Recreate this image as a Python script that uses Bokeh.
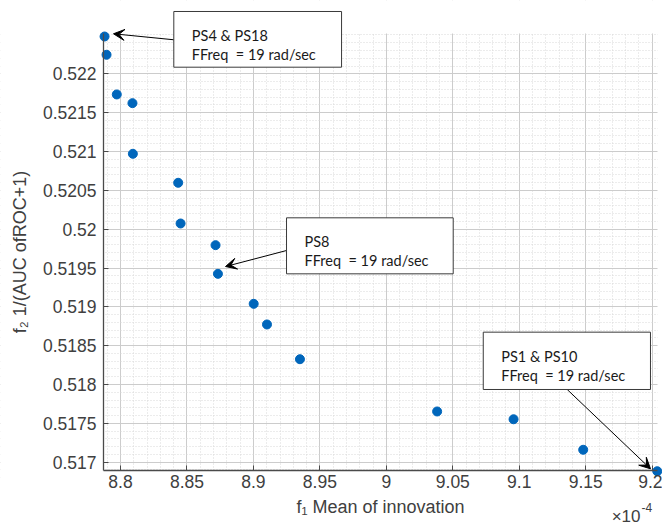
from bokeh.plotting import figure
from bokeh.models import (FixedTicker, CustomJSTickFormatter, Arrow, VeeHead,
                          BoxAnnotation, Label, Range1d)
from bokeh.embed import file_html
from bokeh.resources import INLINE

# ---- data (x in units of 1e-4) ----
f1_mean_innovation = [8.7880, 8.7895, 8.7972, 8.8090, 8.8093, 8.8434, 8.8452, 8.8715,
                      8.8733, 8.9002, 8.9102, 8.9350, 9.0382, 9.0957, 9.1481, 9.2038]
f2_inv_auc = [0.52248, 0.522245, 0.521734, 0.521622, 0.520970, 0.520597, 0.520073, 0.519794,
              0.519425, 0.519039, 0.518773, 0.518326, 0.517653, 0.517553, 0.517160, 0.516884]

x_ticks = [8.8, 8.85, 8.9, 8.95, 9.0, 9.05, 9.1, 9.15, 9.2]
y_ticks = [0.517, 0.5175, 0.518, 0.5185, 0.519, 0.5195, 0.52, 0.5205, 0.521, 0.5215, 0.522]

x_label = "f\u2081 Mean of innovation"
y_label = "f\u2082 1/(AUC ofROC+1)"
exp_text = "\u00d710"
exp_power = "-4"

annotations = [
    ("PS4 & PS18", "FFreq\u00a0 = 19 rad/sec"),
    ("PS8", "FFreq\u00a0 = 19 rad/sec"),
    ("PS1 & PS10", "FFreq\u00a0 = 19 rad/sec"),
]

# ---- layout ----
# plot box (axes limits)
X0, X1 = 8.7872, 9.2040
Y0, Y1 = 0.516893, 0.522519
# whole canvas in data units (the frame fills the canvas; axes sit at fixed locations)
CX0, CX1 = 8.70972, 9.20775
CY0, CY1 = 0.5161595, 0.5229436

boxes = [  # left, right, top, bottom
    (8.8401, 8.9663, 0.522802, 0.522085),
    (8.9249, 9.0503, 0.520146, 0.519425),
    (9.0729, 9.1987, 0.518674, 0.517936),
]
arrows = [  # x_start, y_start, x_end, y_end
    (8.84010, 0.522438, 8.79473, 0.522515),
    (8.92488, 0.519725, 8.8790, 0.519519),
    (9.13605, 0.517936, 9.19872, 0.516915),
]

p = figure(width=662, height=527, output_backend="svg", toolbar_location=None,
           x_range=Range1d(CX0, CX1), y_range=Range1d(CY0, CY1))
p.min_border_left = 0
p.min_border_right = 0
p.min_border_top = 0
p.min_border_bottom = 0
p.outline_line_color = None
p.background_fill_color = "white"
p.border_fill_color = "white"

x_minor = [round(8.78 + 0.01 * i, 4) for i in range(44)]
y_minor = [round(0.5168 + 0.0001 * i, 6) for i in range(58)]
p.xaxis.ticker = FixedTicker(ticks=x_ticks, minor_ticks=x_minor)
p.yaxis.ticker = FixedTicker(ticks=y_ticks, minor_ticks=y_minor)
fmt = "return String(parseFloat(tick.toFixed(5)));"
p.xaxis.formatter = CustomJSTickFormatter(code=fmt)
p.yaxis.formatter = CustomJSTickFormatter(code=fmt)
p.xaxis.fixed_location = Y0
p.yaxis.fixed_location = X0
p.xaxis.bounds = (X0, X1)
p.yaxis.bounds = (Y0, Y1)

for ax in (p.xaxis, p.yaxis):
    ax.axis_line_color = "#4a4a4a"
    ax.axis_line_width = 1.3
    ax.major_tick_line_color = "#4a4a4a"
    ax.major_tick_in = 5
    ax.major_tick_out = 0
    ax.minor_tick_in = 0
    ax.minor_tick_out = 0
    ax.major_label_text_font = "Liberation Sans"
    ax.major_label_text_font_size = "17.5px"
    ax.major_label_text_color = "#404040"
    ax.axis_label_text_font = "Liberation Sans"
    ax.axis_label_text_font_size = "18px"
    ax.axis_label_text_font_style = "normal"
    ax.axis_label_text_color = "#404040"
p.xaxis.axis_label = x_label
p.yaxis.axis_label = y_label
p.xaxis.major_label_standoff = 4
p.yaxis.major_label_standoff = 7
p.xaxis.axis_label_standoff = 6
p.yaxis.axis_label_standoff = 10

for g in (p.xgrid, p.ygrid):
    g.grid_line_color = "#cccccc"
    g.grid_line_width = 1
    g.minor_grid_line_color = "#d8d8d8"
    g.minor_grid_line_dash = "1 2"
    g.minor_grid_line_width = 1

# white masks so that the grid stays inside the plot box
for kw in (dict(bottom=Y1), dict(top=Y0), dict(right=X0), dict(left=X1)):
    p.add_layout(BoxAnnotation(fill_color="white", fill_alpha=1.0, line_color=None,
                               line_alpha=0, level="underlay", **kw))

p.scatter(f1_mean_innovation, f2_inv_auc, size=9, color="#0066bb", line_color="#0066bb")

for (xs, ys, xe, ye) in arrows:
    p.add_layout(Arrow(x_start=xs, y_start=ys, x_end=xe, y_end=ye, line_color="black",
                       line_width=1,
                       end=VeeHead(size=11, fill_color="black", line_color="black")))

for (l, r, t, b), (line1, line2) in zip(boxes, annotations):
    p.add_layout(BoxAnnotation(left=l, right=r, top=t, bottom=b, fill_color="white",
                               fill_alpha=1.0, line_color="#3a3a3a", line_width=1,
                               line_alpha=1.0, level="overlay"))
    p.add_layout(Label(x=l, y=t, x_offset=18, y_offset=-24, text=line1,
                       text_font="Lato", text_font_size="14.5px", text_color="#1a1a1a",
                       text_baseline="alphabetic", level="overlay"))
    p.add_layout(Label(x=l, y=t, x_offset=18, y_offset=-43, text=line2,
                       text_font="Lato", text_font_size="14.5px", text_color="#1a1a1a",
                       text_baseline="alphabetic", level="overlay"))

p.add_layout(Label(x=X1, y=Y0, x_offset=-17, y_offset=-46, text=exp_text,
                   text_align="right", text_baseline="alphabetic",
                   text_font="Liberation Sans", text_font_size="17px", text_color="#404040"))
p.add_layout(Label(x=X1, y=Y0, x_offset=-16, y_offset=-37, text=exp_power,
                   text_align="left", text_baseline="alphabetic",
                   text_font="Liberation Sans", text_font_size="12px", text_color="#404040"))

open("out.html", "w").write(file_html(p, INLINE))
